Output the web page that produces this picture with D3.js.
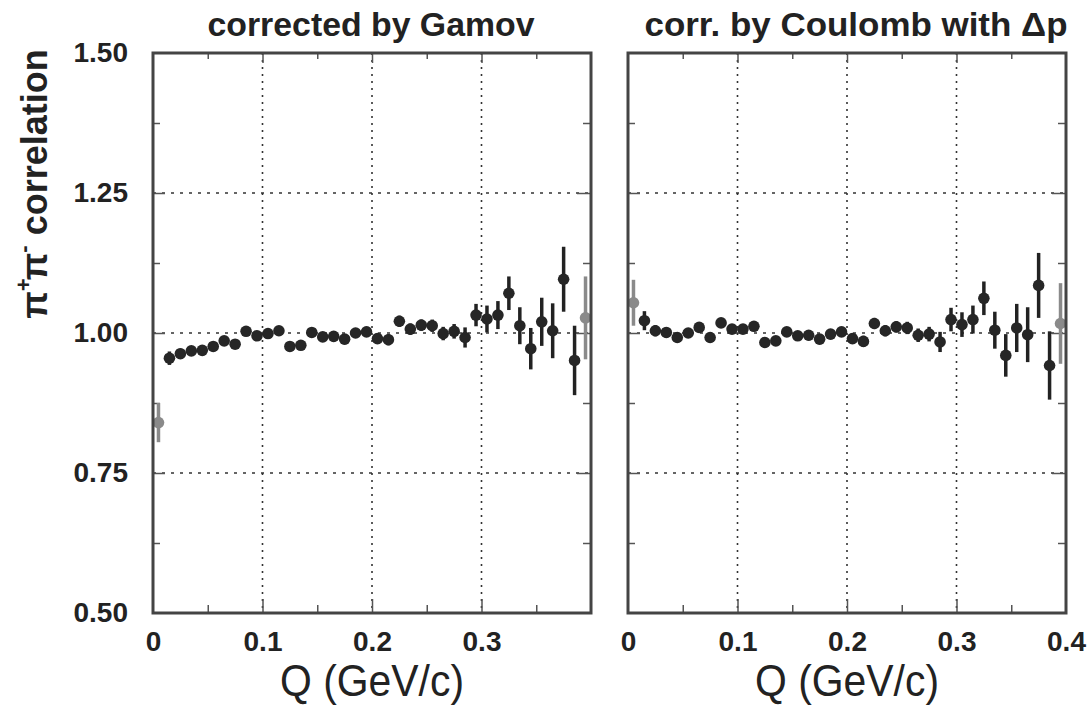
<!DOCTYPE html>
<html>
<head>
<meta charset="utf-8">
<script src="https://cdn.jsdelivr.net/npm/d3@7/dist/d3.min.js"></script>
<style>
html,body{margin:0;padding:0;background:#fff;}
svg{display:block;}
text{font-family:"Liberation Sans",Arial,Helvetica,sans-serif;fill:#222;}
</style>
</head>
<body>
<svg id="chart" width="1088" height="715"></svg>
<script>
// ---- data ----
const qBins = [0.005,0.015,0.025,0.035,0.045,0.055,0.065,0.075,0.085,0.095,
               0.105,0.115,0.125,0.135,0.145,0.155,0.165,0.175,0.185,0.195,
               0.205,0.215,0.225,0.235,0.245,0.255,0.265,0.275,0.285,0.295,
               0.305,0.315,0.325,0.335,0.345,0.355,0.365,0.375,0.385,0.395];

const gamovValues = [0.840,0.955,0.963,0.968,0.969,0.976,0.986,0.980,1.003,0.995,
                     0.999,1.004,0.976,0.978,1.001,0.993,0.994,0.989,1.000,1.002,
                     0.990,0.988,1.021,1.007,1.014,1.013,0.999,1.003,0.992,1.032,
                     1.025,1.032,1.071,1.013,0.972,1.020,1.004,1.096,0.951,1.027];
const gamovErrors = [0.035,0.012,0.009,0.008,0.008,0.008,0.008,0.008,0.008,0.008,
                     0.008,0.008,0.008,0.008,0.008,0.008,0.009,0.009,0.009,0.009,
                     0.009,0.010,0.010,0.010,0.010,0.011,0.012,0.013,0.018,0.020,
                     0.024,0.025,0.030,0.033,0.037,0.043,0.049,0.058,0.062,0.074];

const coulombValues = [1.054,1.022,1.004,1.001,0.992,1.000,1.010,0.992,1.018,1.007,
                       1.007,1.012,0.983,0.986,1.002,0.995,0.996,0.989,0.998,1.002,
                       0.990,0.985,1.017,1.004,1.011,1.009,0.996,0.998,0.984,1.024,
                       1.015,1.024,1.062,1.005,0.960,1.009,0.997,1.085,0.942,1.017];
const coulombErrors = [0.041,0.017,0.010,0.009,0.008,0.008,0.008,0.008,0.008,0.008,
                       0.008,0.008,0.008,0.008,0.008,0.008,0.009,0.009,0.009,0.009,
                       0.009,0.010,0.010,0.010,0.010,0.011,0.012,0.013,0.018,0.021,
                       0.022,0.025,0.030,0.033,0.038,0.043,0.049,0.058,0.061,0.072];

// grey (uncertain edge) bins
const greyBins = [0.005, 0.395];

const panelTitles = ["corrected by Gamov", "corr. by Coulomb with \u0394p"];
const xTickLabelsLeft = [0, 0.1, 0.2, 0.3];
const xTickLabelsRight = [0, 0.1, 0.2, 0.3, 0.4];
const yTickLabels = [0.50, 0.75, 1.00, 1.25, 1.50];
const gridX = [0.1, 0.2, 0.3];
const gridY = [0.75, 1.00, 1.25];
const xMinorTicks = [0.05, 0.15, 0.25, 0.35];
const yMinorTicks = [0.625, 0.875, 1.125, 1.375];
const xAxisTitle = "Q (GeV/c)";

// ---- layout ----
const svg = d3.select("#chart");
const yTop = 53, yBottom = 613;
const y = d3.scaleLinear().domain([0.5, 1.5]).range([yBottom, yTop]);

const panels = [
  {x0: 153, x1: 591, values: gamovValues, errors: gamovErrors, title: panelTitles[0],
   titleX: 371, titleW: 327, xLabels: xTickLabelsLeft, yLabels: true},
  {x0: 628, x1: 1066, values: coulombValues, errors: coulombErrors, title: panelTitles[1],
   titleX: 856, titleW: 423, xLabels: xTickLabelsRight, yLabels: false}
];

const fmtX = d => d === 0 ? "0" : d3.format(".1f")(d);

panels.forEach(p => {
  const x = d3.scaleLinear().domain([0, 0.4]).range([p.x0, p.x1]);
  const g = svg.append("g");

  // grid
  g.selectAll(".gx").data(gridX).join("line")
    .attr("x1", d => x(d)).attr("x2", d => x(d))
    .attr("y1", yTop).attr("y2", yBottom)
    .attr("stroke", "#333").attr("stroke-width", 1.6)
    .attr("stroke-dasharray", "2,5");
  g.selectAll(".gy").data(gridY).join("line")
    .attr("x1", p.x0).attr("x2", p.x1)
    .attr("y1", d => y(d)).attr("y2", d => y(d))
    .attr("stroke", "#333").attr("stroke-width", 1.6)
    .attr("stroke-dasharray", "3,6");

  // inner ticks via axes
  const tickStyle = sel => { sel.select(".domain").remove(); sel.selectAll("text").remove();
    sel.selectAll("line").attr("stroke", "#555").attr("stroke-width", 1.5); };
  g.append("g").attr("transform", `translate(0,${yBottom})`)
    .call(d3.axisBottom(x).tickValues(gridX).tickSize(-14)).call(tickStyle);
  g.append("g").attr("transform", `translate(0,${yBottom})`)
    .call(d3.axisBottom(x).tickValues(xMinorTicks).tickSize(-8)).call(tickStyle);
  g.append("g").attr("transform", `translate(0,${yTop})`)
    .call(d3.axisTop(x).tickValues(gridX).tickSize(-10)).call(tickStyle);
  g.append("g").attr("transform", `translate(0,${yTop})`)
    .call(d3.axisTop(x).tickValues(xMinorTicks).tickSize(-6)).call(tickStyle);
  g.append("g").attr("transform", `translate(${p.x1},0)`)
    .call(d3.axisRight(y).tickValues(gridY).tickSize(-14)).call(tickStyle);
  g.append("g").attr("transform", `translate(${p.x1},0)`)
    .call(d3.axisRight(y).tickValues(yMinorTicks).tickSize(-8)).call(tickStyle);
  g.append("g").attr("transform", `translate(${p.x0},0)`)
    .call(d3.axisLeft(y).tickValues(gridY).tickSize(-12)).call(tickStyle);
  g.append("g").attr("transform", `translate(${p.x0},0)`)
    .call(d3.axisLeft(y).tickValues(yMinorTicks).tickSize(-7)).call(tickStyle);

  // data
  const pts = qBins.map((q, i) => ({q, v: p.values[i], e: p.errors[i], grey: greyBins.includes(q)}));
  g.selectAll(".err").data(pts).join("line")
    .attr("x1", d => x(d.q)).attr("x2", d => x(d.q))
    .attr("y1", d => y(d.v - d.e)).attr("y2", d => y(d.v + d.e))
    .attr("stroke", d => d.grey ? "#8a8a8a" : "#222")
    .attr("stroke-width", 3.5);
  g.selectAll(".pt").data(pts).join("circle")
    .attr("cx", d => x(d.q)).attr("cy", d => y(d.v))
    .attr("r", 5.8)
    .attr("fill", d => d.grey ? "#8a8a8a" : "#262626");

  // frame
  g.append("rect").attr("x", p.x0).attr("y", yTop)
    .attr("width", p.x1 - p.x0).attr("height", yBottom - yTop)
    .attr("fill", "none").attr("stroke", "#444").attr("stroke-width", 3);

  // x tick labels
  const xl = g.append("g").attr("transform", `translate(0,${yBottom})`)
    .call(d3.axisBottom(x).tickValues(p.xLabels).tickSize(0).tickPadding(18).tickFormat(fmtX));
  xl.select(".domain").remove();
  xl.selectAll("text").attr("font-size", 28).attr("font-weight", "bold")
    .attr("font-family", "Liberation Sans, Arial, sans-serif").attr("fill", "#222");

  // y tick labels
  if (p.yLabels) {
    const yl = g.append("g").attr("transform", `translate(${p.x0},0)`)
      .call(d3.axisLeft(y).tickValues(yTickLabels).tickSize(0).tickPadding(25).tickFormat(d3.format(".2f")));
    yl.select(".domain").remove();
    yl.selectAll("text").attr("font-size", 28).attr("font-weight", "bold")
      .attr("font-family", "Liberation Sans, Arial, sans-serif").attr("fill", "#222");
  }

  // panel title
  g.append("text").attr("x", p.titleX).attr("y", 36)
    .attr("text-anchor", "middle").attr("font-size", 33).attr("font-weight", "bold")
    .attr("textLength", p.titleW).attr("lengthAdjust", "spacingAndGlyphs")
    .text(p.title);

  // x axis title
  g.append("text").attr("x", x(0.2)).attr("y", 696)
    .attr("text-anchor", "middle").attr("font-size", 44)
    .attr("textLength", 184).attr("lengthAdjust", "spacingAndGlyphs")
    .text(xAxisTitle);
});

// y axis title
const yt = svg.append("text")
  .attr("transform", "translate(47,184) rotate(-90)")
  .attr("text-anchor", "middle").attr("font-size", 36).attr("font-weight", "bold");
yt.append("tspan").text("\u03c0");
yt.append("tspan").attr("dy", -16).attr("font-size", 22).text("+");
yt.append("tspan").attr("dy", 16).attr("dx", -2).text("\u03c0");
yt.append("tspan").attr("dy", -16).attr("font-size", 22).text("-");
yt.append("tspan").attr("dy", 16).text(" correlation");
</script>
</body>
</html>
